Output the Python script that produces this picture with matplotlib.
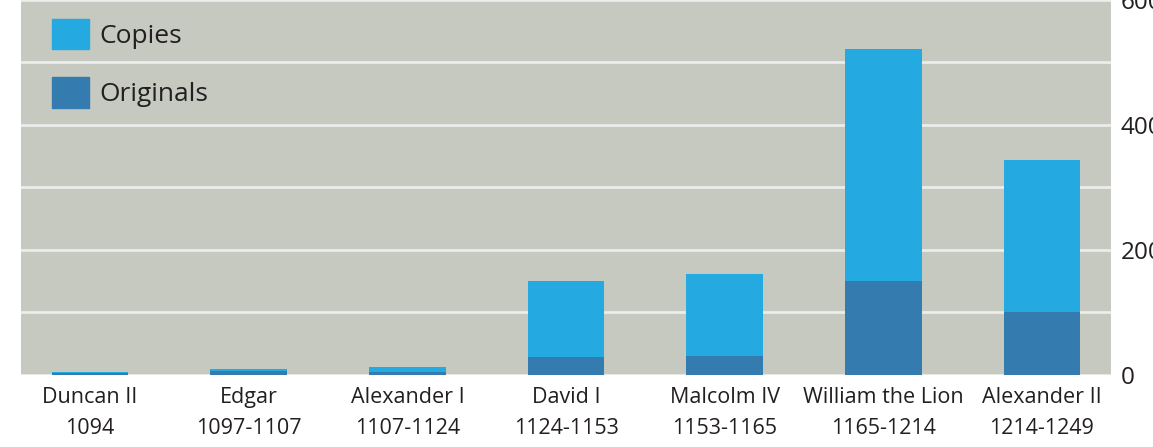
import matplotlib
matplotlib.use("Agg")
import matplotlib.pyplot as plt
from matplotlib.patches import Patch
from matplotlib.ticker import MultipleLocator

plt.rcParams['font.family'] = ['Open Sans', 'DejaVu Sans']

kings = ["Duncan II", "Edgar", "Alexander I", "David I",
         "Malcolm IV", "William the Lion", "Alexander II"]
reigns = ["1094", "1097-1107", "1107-1124", "1124-1153",
          "1153-1165", "1165-1214", "1214-1249"]
originals = [2, 5, 4, 28, 30, 150, 100]
copies = [2, 4, 8, 122, 131, 372, 244]

copies_color = '#24a9e1'
originals_color = '#347bb0'
text_color = '#231f20'

fig = plt.figure(figsize=(11.53, 4.47), dpi=100)
ax = fig.add_axes([21 / 1153, 1 - 374.5 / 447, 1090 / 1153, 374.5 / 447])
ax.set_facecolor('#c6c9bf')

x = range(len(kings))
ax.bar(x, originals, width=0.485, color=originals_color, zorder=3)
ax.bar(x, copies, width=0.485, bottom=originals, color=copies_color, zorder=3)

ax.set_xlim(-0.435, len(kings) - 1 + 0.435)
ax.set_ylim(0, 600)
ax.yaxis.tick_right()
ax.yaxis.set_major_locator(MultipleLocator(200))
ax.yaxis.set_minor_locator(MultipleLocator(100))
ax.grid(axis='y', which='both', color='#ececea', linewidth=2, zorder=1)
ax.tick_params(axis='y', which='both', length=0, pad=7, labelsize=17.5, labelcolor=text_color)

ax.set_xticks(list(x))
ax.set_xticklabels([f"{k}\n{r}" for k, r in zip(kings, reigns)],
                   fontsize=15.5, color=text_color, linespacing=1.6)
ax.tick_params(axis='x', length=0, pad=9)

for side in ax.spines.values():
    side.set_visible(False)

handles = [Patch(color=copies_color), Patch(color=originals_color)]
ax.legend(handles, ["Copies", "Originals"], loc='upper left',
          bbox_to_anchor=(31 / 1090, 1 - 19 / 374.5), frameon=False, fontsize=19,
          handlelength=1.4, handleheight=1.4, handletextpad=0.4,
          labelspacing=1.05, borderaxespad=0, borderpad=0, labelcolor=text_color)

fig.savefig("out.png", dpi=100)
